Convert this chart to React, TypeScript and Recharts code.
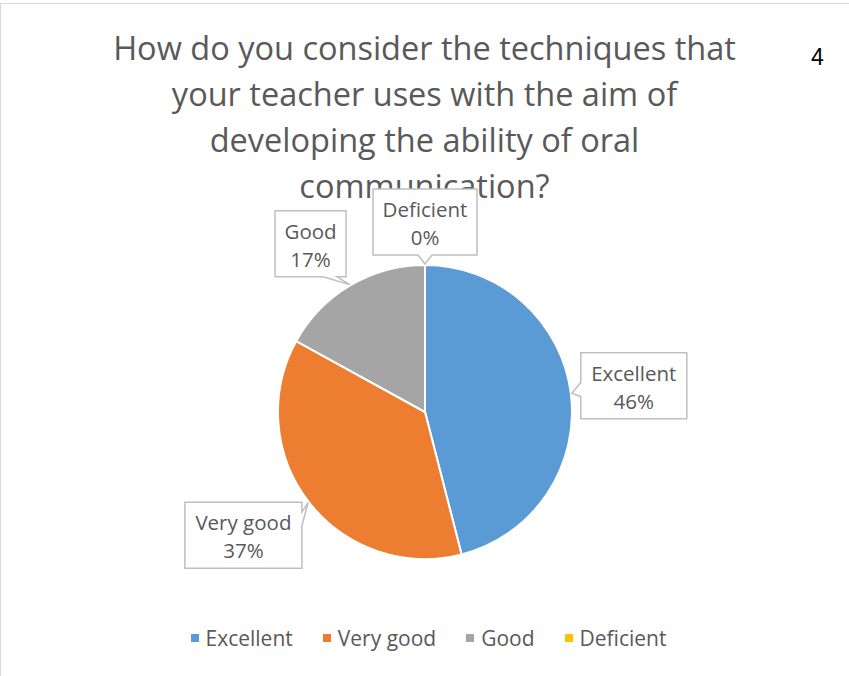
import { PieChart, Pie, Cell, Legend } from "recharts";

const categories = ["Excellent", "Very good", "Good", "Deficient"];
const shares = [46, 37, 17, 0];
const colors = ["#5B9BD5", "#ED7D31", "#A5A5A5", "#FFC000"];
const titleLines = [
  "How do you consider the techniques that",
  "your teacher uses with the aim of",
  "developing the ability of oral",
  "communication?",
];

const data = categories.map((name, i) => ({ name, value: shares[i] }));

const RAD = Math.PI / 180;
const FONT = "'Open Sans', Lato, sans-serif";
const TEXT = "#595959";

// callout box widths, roughly as Office sizes them
const boxWidth: Record<string, number> = {
  Excellent: 106,
  "Very good": 117,
  Good: 71,
  Deficient: 104,
};
const BOX_H = 66;
const GAP = 10;

function Callout(props: any) {
  const { cx, cy, midAngle, outerRadius, name, value } = props;
  const cos = Math.cos(-midAngle * RAD);
  const sin = Math.sin(-midAngle * RAD);
  const hw = (boxWidth[name] ?? 90) / 2;
  const hh = BOX_H / 2;
  const t = Math.min(
    Math.abs(cos) > 1e-6 ? hw / Math.abs(cos) : Infinity,
    Math.abs(sin) > 1e-6 ? hh / Math.abs(sin) : Infinity
  );
  const r = outerRadius + GAP + t;
  // diagonal labels get pushed sideways a bit, like Office's best fit
  const push = Math.abs(cos) > 0.1 && Math.abs(cos) < 0.9 ? 15 * Math.sign(cos) : 0;
  const bx = cx + r * cos + push;
  const by = cy + r * sin - (push !== 0 && sin > 0 ? 6 : 0);
  const x0 = bx - hw;
  const x1 = bx + hw;
  const y0 = by - hh;
  const y1 = by + hh;
  // wedge tip on the pie edge
  const tx = cx + (outerRadius + 1) * cos;
  const ty = cy + (outerRadius + 1) * sin;
  const dxn = (tx - bx) / hw;
  const dyn = (ty - by) / hh;
  const half = 7;
  let d = "";
  if (Math.abs(dxn) > Math.abs(dyn)) {
    const m = Math.max(y0 + half + 2, Math.min(y1 - half - 2, (by + ty) / 2));
    if (dxn > 0) {
      d = `M${x0},${y0} L${x1},${y0} L${x1},${m - half} L${tx},${ty} L${x1},${m + half} L${x1},${y1} L${x0},${y1} Z`;
    } else {
      d = `M${x0},${y0} L${x1},${y0} L${x1},${y1} L${x0},${y1} L${x0},${m + half} L${tx},${ty} L${x0},${m - half} Z`;
    }
  } else {
    const m = Math.max(x0 + half + 2, Math.min(x1 - half - 2, (bx + tx) / 2));
    if (dyn > 0) {
      d = `M${x0},${y0} L${x1},${y0} L${x1},${y1} L${m + half},${y1} L${tx},${ty} L${m - half},${y1} L${x0},${y1} Z`;
    } else {
      d = `M${x0},${y0} L${m - half},${y0} L${tx},${ty} L${m + half},${y0} L${x1},${y0} L${x1},${y1} L${x0},${y1} Z`;
    }
  }
  return (
    <g>
      <path d={d} fill="#ffffff" stroke="#BFBFBF" strokeWidth={1.5} />
      <text
        x={bx}
        y={by - 13}
        textAnchor="middle"
        dominantBaseline="central"
        fontFamily={FONT}
        fontSize={20.5}
        fill={TEXT}
      >
        {name}
      </text>
      <text
        x={bx}
        y={by + 15}
        textAnchor="middle"
        dominantBaseline="central"
        fontFamily={FONT}
        fontSize={20.5}
        fill={TEXT}
      >
        {`${value}%`}
      </text>
    </g>
  );
}

function LegendContent(props: any) {
  const items = [...(props.payload ?? [])].sort(
    (a: any, b: any) => categories.indexOf(a.value) - categories.indexOf(b.value)
  );
  return (
    <div
      style={{
        display: "flex",
        justifyContent: "center",
        gap: 30,
        fontFamily: FONT,
        fontSize: 21,
        color: TEXT,
        lineHeight: "24px",
      }}
    >
      {items.map((e: any) => (
        <span key={e.value} style={{ display: "flex", alignItems: "center" }}>
          <span
            style={{
              display: "inline-block",
              width: 8,
              height: 8,
              background: e.color,
              marginRight: 7,
            }}
          />
          {e.value}
        </span>
      ))}
    </div>
  );
}

export default function App() {
  return (
    <div
      style={{
        position: "absolute",
        left: 0,
        top: 0,
        width: 849,
        height: 676,
        background: "#ffffff",
        overflow: "hidden",
      }}
    >
      <div
        style={{
          position: "absolute",
          left: 0,
          top: 3,
          width: 900,
          height: 700,
          border: "1px solid #D9D9D9",
          boxSizing: "border-box",
        }}
      />
      <div
        style={{
          position: "absolute",
          left: 0,
          top: 25,
          width: 849,
          textAlign: "center",
          fontFamily: FONT,
          fontSize: 32.5,
          lineHeight: "46px",
          color: TEXT,
        }}
      >
        {titleLines.map((l) => (
          <div key={l}>{l}</div>
        ))}
      </div>
      <div
        style={{
          position: "absolute",
          left: 811,
          top: 44,
          fontFamily: "'Liberation Sans', Arial, sans-serif",
          fontSize: 23,
          color: "#000000",
        }}
      >
        4
      </div>
      <div style={{ position: "absolute", left: 0, top: 0 }}>
        <PieChart
          width={849}
          height={676}
          margin={{ top: 0, right: 0, bottom: 0, left: 0 }}
        >
          <Pie
            data={data}
            dataKey="value"
            nameKey="name"
            cx={425}
            cy={412}
            outerRadius={147}
            startAngle={90}
            endAngle={-270}
            stroke="#ffffff"
            strokeWidth={2}
            label={Callout}
            labelLine={false}
            isAnimationActive={false}
          >
            {data.map((d, i) => (
              <Cell key={d.name} fill={colors[i]} />
            ))}
          </Pie>
          <Legend
            content={LegendContent}
            wrapperStyle={{ position: "absolute", top: 626, left: 4, width: 849 }}
          />
        </PieChart>
      </div>
    </div>
  );
}
